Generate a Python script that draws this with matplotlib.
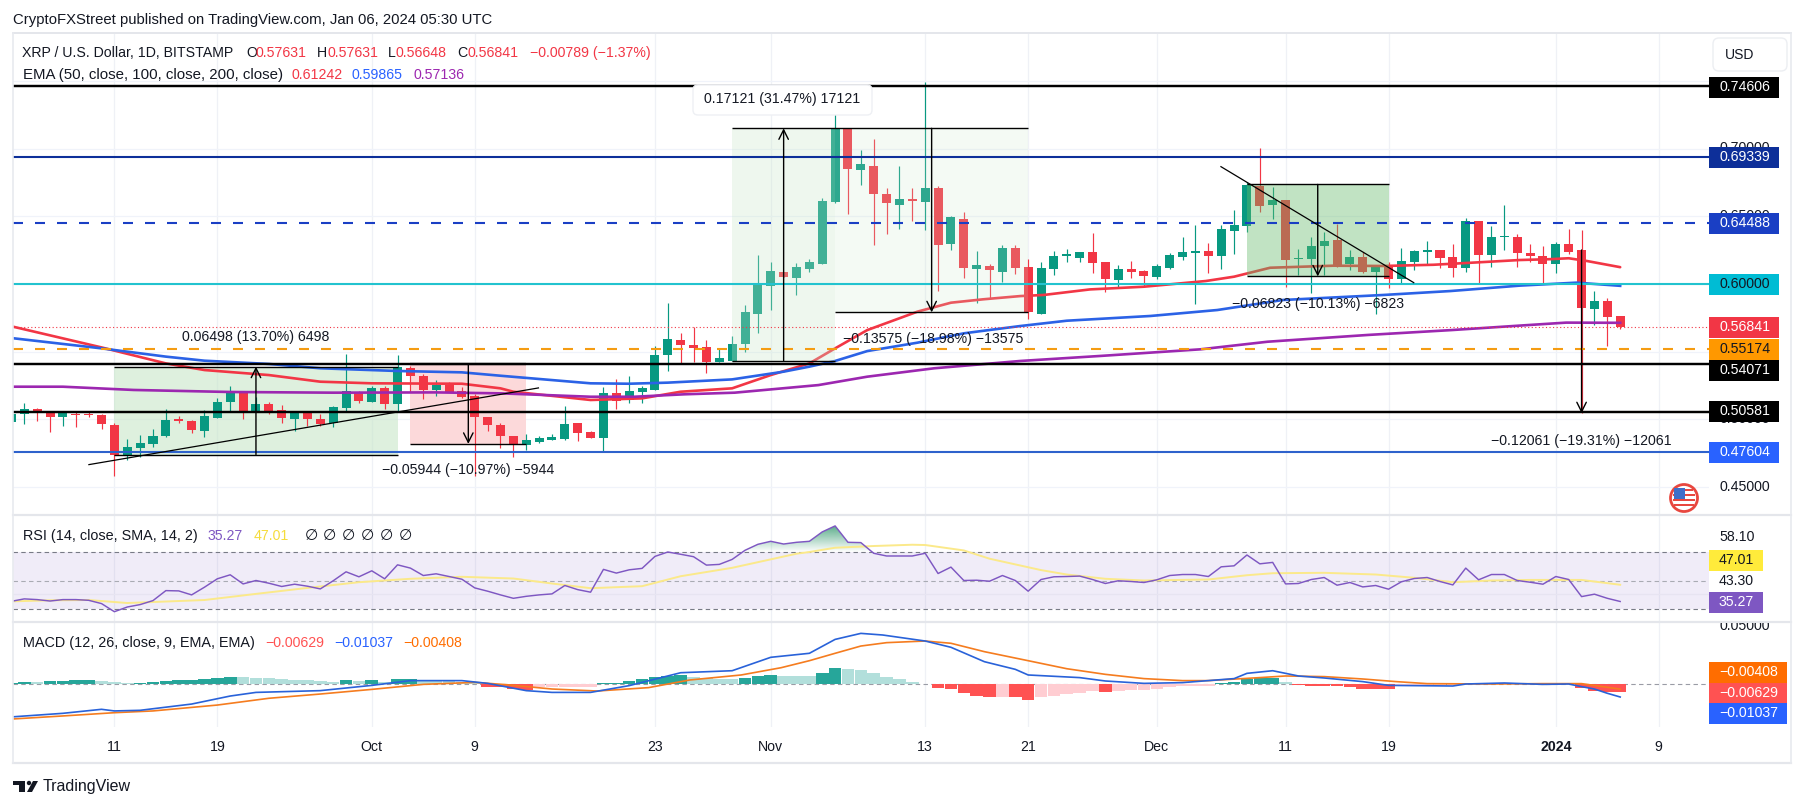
import numpy as np
import matplotlib
matplotlib.use("Agg")
import matplotlib.pyplot as plt
from matplotlib.patches import Rectangle, FancyBboxPatch, Circle, Polygon
from matplotlib.transforms import Bbox

W, H = 1804, 808
FONT = "Liberation Sans"
plt.rcParams["font.family"] = [FONT, "DejaVu Sans"]

# ---- daily candles, day 0 = 4 Sep 2023 ----
first_day = -1
opens = [.4980,.5041,.5078,.5051,.5016,.5041,.5041,.5036,.4962,.4741,.4792,.4822,.4879,.5002,.4992,.4913,.5014,.5132,.5211,.5058,
         .5117,.5071,.5006,.5056,.5006,.4972,.5088,.5203,.5132,.5235,.5112,.5378,.5321,.5221,.5257,.5211,.5174,.5019,.4962,.4879,
         .4815,.4832,.4852,.4859,.4975,.4908,.4866,.5196,.5144,.5203,.5218,.5476,.5587,.5550,.5532,.5424,.5434,.5557,.5778,.5985,
         .6088,.6044,.6111,.6147,.6605,.7149,.6841,.6871,.6664,.6583,.6627,.6605,.6708,.6295,.6480,.6111,.6133,.6088,.6266,.6125,
         .5778,.6111,.6207,.6192,.6236,.6162,.6029,.6111,.6096,.6052,.6118,.6199,.6229,.6243,.6207,.6391,.6428,.6723,.6583,.6620,
         .6182,.6184,.6280,.6325,.6147,.6199,.6088,.6125,.6037,.6162,.6236,.6251,.6199,.6118,.6465,.6214,.6347,.6347,.6229,.6207,
         .6148,.6296,.6251,.5816,.5875,.57631]
highs = [.5053,.5125,.5083,.5058,.5058,.5058,.5053,.5041,.4972,.4856,.4888,.4930,.5078,.5029,.4997,.5071,.5159,.5250,.5211,.5164,
         .5132,.5110,.5058,.5066,.5041,.5100,.5484,.5208,.5250,.5250,.5476,.5398,.5336,.5292,.5275,.5238,.5189,.5021,.4977,.4879,
         .4893,.4881,.4893,.5102,.4977,.4918,.5238,.5299,.5321,.5247,.5542,.5857,.5636,.5685,.5587,.5518,.5616,.5842,.6211,.6162,
         .6088,.6152,.6182,.6635,.7382,.7149,.6989,.7068,.6708,.6871,.6708,.7491,.6723,.6502,.6531,.6243,.6148,.6288,.6288,.6184,
         .6162,.6243,.6258,.6236,.6376,.6162,.6140,.6170,.6103,.6148,.6229,.6347,.6435,.6302,.6435,.6546,.6753,.7004,.6716,.6620,
         .6258,.6347,.6384,.6443,.6251,.6236,.6133,.6162,.6266,.6251,.6317,.6251,.6295,.6485,.6465,.6428,.6583,.6369,.6296,.6281,
         .6310,.6406,.6399,.5949,.5897,.57631]
lows = [.4980,.4965,.4987,.4906,.4955,.4943,.5016,.4928,.4586,.4701,.4721,.4800,.4874,.4972,.4898,.4869,.5011,.5066,.5002,.5053,
        .5041,.4977,.4918,.4955,.4955,.4943,.5066,.5120,.5130,.5075,.5066,.5201,.5154,.5171,.5201,.5159,.4586,.4913,.4788,.4726,
        .4778,.4827,.4852,.4847,.4844,.4861,.4770,.5078,.5119,.5124,.5218,.5360,.5409,.5427,.5345,.5424,.5434,.5500,.5641,.5808,
        .6052,.5919,.6088,.6147,.6600,.6516,.6730,.6288,.6369,.6406,.6465,.6398,.5948,.6251,.6044,.5862,.5897,.6015,.6074,.5744,
        .5778,.6066,.6162,.6162,.6081,.5941,.5978,.6044,.5985,.6037,.6111,.6177,.5852,.6081,.6111,.6221,.6384,.6531,.6480,.5978,
        .6066,.5933,.6066,.6128,.6103,.6081,.5778,.5970,.6007,.6103,.6147,.6118,.6052,.6088,.6007,.6125,.6251,.6125,.6163,.5999,
        .6082,.6222,.5046,.5698,.5543,.56648]
closes = [.5041,.5080,.5046,.5021,.5051,.5036,.5036,.4965,.4741,.4797,.4829,.4879,.4999,.4987,.4920,.5029,.5132,.5201,.5063,.5117,
          .5063,.5014,.5058,.5006,.4967,.5093,.5211,.5139,.5235,.5117,.5388,.5319,.5221,.5257,.5206,.5169,.5021,.4962,.4881,.4820,
          .4852,.4866,.4874,.4967,.4903,.4866,.5196,.5134,.5210,.5232,.5476,.5594,.5550,.5528,.5424,.5454,.5557,.5793,.6000,.6096,
          .6052,.6125,.6162,.6612,.7149,.6849,.6885,.6664,.6598,.6627,.6612,.6708,.6288,.6494,.6118,.6140,.6103,.6266,.6118,.5791,
          .6118,.6207,.6221,.6236,.6155,.6037,.6111,.6088,.6059,.6133,.6214,.6236,.6243,.6207,.6406,.6435,.6730,.6576,.6620,.6177,
          .6192,.6280,.6317,.6140,.6199,.6088,.6133,.6037,.6170,.6243,.6251,.6192,.6118,.6465,.6214,.6347,.6354,.6229,.6207,.6148,
          .6296,.6237,.5823,.5875,.5757,.56841]
days = np.arange(first_day, first_day + len(opens))

# ---- EMAs ----
ema50_days = [-2,6,11,14,19,23,27,34,37,38,44,48,51,55,58,61,63,65.5,69.4,72,74.5,77.4,79.2,82.8,87,91.8,94,96.8,101.7,105.6,109.5,113,116.2,118.5,120,121.4,124]
ema50_vals = [.5710,.5532,.5414,.5365,.5328,.5279,.5267,.5264,.5230,.5205,.5144,.5156,.5205,.5230,.5328,.5414,.5525,.5660,.5796,.5862,.5887,.5911,.5919,.5960,.5980,.6022,.6054,.6120,.6135,.6133,.6142,.6160,.6177,.6183,.6190,.6170,.61242]
ema100_days = [-2,6,11,14,19,23,29,34,37,44,47,50,55,59,61,63,65.5,69.4,73,77.4,81,87.5,92.7,97.8,105.6,110.8,116.2,120.6,124]
ema100_vals = [.5612,.5525,.5464,.5434,.5410,.5378,.5358,.5348,.5323,.5267,.5264,.5272,.5296,.5353,.5390,.5432,.5505,.5567,.5636,.5690,.5729,.5764,.5808,.5882,.5919,.5948,.5988,.6010,.59865]
ema200_days = [-2,3,8.5,16,24,32,37,44,47.4,51.3,55.2,61.7,65.5,70.7,77.4,83.6,91.4,96.6,104.4,110.9,116.2,119.8,124]
ema200_vals = [.5242,.5242,.5218,.5203,.5198,.5200,.5193,.5168,.5168,.5186,.5198,.5254,.5316,.5378,.5432,.5469,.5518,.5574,.5624,.5660,.5693,.5715,.57136]

# ---- horizontal levels ----
level_values = [.74606,.69339,.64488,.60000,.55174,.54071,.50581,.47604]
level_colors = ["#000000","#0d2f99","#1a3fc4","#22c3cf","#f59c12","#000000","#000000","#2e62cc"]
level_dashed = [False,False,True,False,True,False,False,False]
last_price = .56841

# ---- RSI ----
rsi = [35.4,37.1,36.6,35.6,36.6,36.6,36.1,33.8,28.1,31.4,33.1,35.9,42.9,42.7,39.9,45.3,51.2,54.0,47.6,50.0,48.1,45.8,47.4,46.0,44.1,49.8,
       56.1,52.6,56.8,51.2,61.0,58.7,53.5,54.7,52.8,50.9,44.8,42.5,39.9,37.5,38.9,39.9,40.6,46.5,43.6,41.8,57.8,55.2,57.5,58.5,66.9,70.0,
       68.4,66.7,60.8,61.3,64.8,71.2,75.4,77.5,75.6,76.8,77.5,84.1,88.3,76.8,76.6,69.1,67.2,67.2,67.2,69.1,54.9,59.4,50.0,50.2,49.5,53.5,
       50.0,42.5,50.7,52.6,52.8,53.1,50.7,47.9,49.8,49.3,48.6,50.5,53.5,54.2,54.2,52.8,59.6,60.3,67.9,61.7,62.7,47.6,47.9,50.7,52.1,46.7,
       48.6,45.5,46.5,43.9,49.1,51.4,52.1,49.3,46.9,58.7,50.5,54.2,54.2,50.0,48.8,47.4,52.8,50.7,38.7,40.4,37.5,35.27]
rsi_sma_days = [-2,2,5,8,10,14,18,22,26,30,34,38,41,44,48,51,55,60,61,63,66,69,70,73,75,79,81,84,87,92,95,97,101,105,108,111,114,117,121,124]
rsi_sma_vals = [35.1,36.1,36.3,34.2,34.9,36.3,40.6,44.8,48.8,51.2,52.6,51.4,47.9,44.6,46.0,53.0,58.9,68.8,70,73,74.2,75.1,74.9,71.1,65.3,57.3,54.2,51.2,50,50.7,53.7,55.1,55.4,54.2,51.9,48.8,50,50.4,50.4,47.01]

# ---- MACD ----
macd_hist = [.0011,.0013,.0013,.0021,.0024,.0032,.0035,.0021,.0016,.0008,.0011,.0013,.0021,.0029,.0032,.0040,.0048,.0056,.0053,.0051,.0048,.0040,.0032,.0029,.0021,.0019,
             .0029,.0027,.0032,.0016,.0040,.0043,.0032,.0027,.0024,.0016,.0005,-.0021,-.0027,-.0037,-.0045,-.0027,-.0027,-.0027,-.0027,-.0024,.0005,.0011,.0021,.0037,.0053,.0067,
             .0069,.0059,.0045,.0040,.0037,.0048,.0061,.0069,.0067,.0067,.0067,.0088,.0125,.0117,.0112,.0088,.0056,.0037,.0013,.0003,-.0035,-.0040,-.0074,-.0093,-.0106,-.0101,
             -.0106,-.0125,-.0106,-.0096,-.0080,-.0069,-.0059,-.0064,-.0053,-.0051,-.0051,-.0043,-.0027,-.0016,-.0013,-.0013,.0011,.0016,.0043,.0045,.0048,.0016,-.0011,-.0013,-.0016,
             -.0019,-.0027,-.0037,-.0040,-.0043,-.0016,-.0011,-.0008,-.0005,-.0005,.0005,.0008,.0008,.0008,.0003,-.0003,-.0011,-.0003,-.0003,-.0032,-.0053,-.0061,-.00629]
macd_days = [-2,3,6,7,9,13,16,18,23,27,30,34,36,39,41,44,47,51,55,58,61,63,65,66.7,70,72,74.6,77,78,82,84,87,90,94,95,97,99,101,104,106,108,111,112,115,118,120,121,122,123,124]
macd_vals = [-.0270,-.0234,-.0202,-.0215,-.0210,-.0160,-.0096,-.0067,-.0053,-.0011,.0027,.0027,.0005,-.0053,-.0067,-.0067,-.0013,.0090,.0106,.0213,.0245,.0356,.0404,.0391,.0343,.0293,.0178,.0117,.0072,.0051,.0024,.0005,.0011,.0043,.0085,.0106,.0064,.0048,.0019,-.0011,-.0013,-.0016,0,.0008,-.0003,0,-.0021,-.0040,-.0074,-.01037]
signal_days = [-2,3,7,10,15,19,23,27,31,35,37.4,41,44.5,48.5,51.7,55.7,58.8,61,63,65,67,70,72,74.6,78,81,84,87,90,92,96,98,101,104,106.6,109,114,118,121,124]
signal_vals = [-.0286,-.0255,-.0229,-.0215,-.0168,-.0114,-.0080,-.0043,-.0003,.0013,-.0005,-.0040,-.0056,-.0029,.0032,.0072,.0130,.0186,.0245,.0303,.0330,.0343,.0325,.0258,.0186,.0122,.0077,.0043,.0027,.0027,.0051,.0064,.0059,.0040,.0019,.0003,0,.0003,.0003,-.00408]

# ---- axis labels ----
tick_days = [7,15,27,35,49,58,70,78,88,98,106,119,127]
tick_labels = ["11","19","Oct","9","23","Nov","13","21","Dec","11","19","2024","9"]
price_ticks = [.75,.70,.65,.60,.55,.50,.45]
hidden_price_labels = [.70,.65,.50,.45]

# ---- geometry in pixels ----
PLOT_L, PLOT_R, BORDER_R = 13, 1709, 1791
MAIN_T, MAIN_B, RSI_B, MACD_B, FRAME_B = 33, 515, 622, 727, 763
X0, DX = 24.3, 12.87
Y60, PPU = 284, 1355
XLIM = ((PLOT_L - X0) / DX, (PLOT_R - X0) / DX)

fig = plt.figure(figsize=(W / 100, H / 100), dpi=100, facecolor="white")

def fx(x): return x / W
def fy(y): return 1 - y / H

def pane(top, bottom, ylim):
    ax = fig.add_axes([fx(PLOT_L), fy(bottom), (PLOT_R - PLOT_L) / W, (bottom - top) / H])
    ax.set_xlim(*XLIM); ax.set_ylim(*ylim)
    ax.axis("off")
    for d in tick_days:
        ax.axvline(d, color="#eff1f6", lw=0.9, zorder=0)
    return ax

main = pane(MAIN_T, MAIN_B, (.6 - (MAIN_B - Y60) / PPU, .6 + (Y60 - MAIN_T) / PPU))
rsi_ax = pane(MAIN_B, RSI_B, (30 - (RSI_B - 609) / 1.425, 30 + (609 - MAIN_B) / 1.425))
macd_ax = pane(RSI_B, MACD_B, ((684 - MACD_B) / 1253, (684 - RSI_B) / 1253))

TXT = "#131722"
def T(x, y, s, color=TXT, size=10.2, ha="left", **kw):
    return fig.text(fx(x), fy(y), s, color=color, fontsize=size, ha=ha, va="center", zorder=20, **kw)

# ---- main pane ----
for p in price_ticks:
    main.axhline(p, color="#f0f3fa", lw=0.9, zorder=0)

main.add_patch(Rectangle((7, .4741), 22, .5390 - .4741, fc="#c8e6c9", alpha=.6, ec="none", zorder=1))
main.add_patch(Rectangle((30, .4820), 9, .5412 - .4820, fc="#fcd9da", ec="none", zorder=1))

xs = np.array(days, float)
o, h_, l_, c = map(np.array, (opens, highs, lows, closes))
up = c >= o
GREEN, RED = "#089981", "#f23645"
cols = np.where(up, GREEN, RED)
main.vlines(xs, l_, h_, colors=cols, lw=0.85, zorder=2)
main.bar(xs, np.maximum(np.abs(c - o), .0006), bottom=np.minimum(o, c), width=.70, color=cols, lw=0, zorder=2)

main.plot(ema50_days, ema50_vals, color="#f23645", lw=1.9, zorder=3, solid_capstyle="round")
main.plot(ema100_days, ema100_vals, color="#2b62e6", lw=1.9, zorder=3)
main.plot(ema200_days, ema200_vals, color="#9c27b0", lw=1.9, zorder=3)

main.add_patch(Rectangle((55, .5434), 8, .7149 - .5434, fc="#c8e6c9", alpha=.3, ec="none", zorder=4))
main.add_patch(Rectangle((63, .5791), 15, .7149 - .5791, fc="#c8e6c9", alpha=.2, ec="none", zorder=4))
main.add_patch(Rectangle((95, .6056), 11, .6735 - .6056, fc="#66bb6a", alpha=.4, ec="none", zorder=4))

for val, col, dashed in zip(level_values, level_colors, level_dashed):
    ls = (0, (4.8, 5.76)) if dashed else "-"
    main.axhline(val, color=col, lw=1.5 if col != "#000000" else 1.75, ls=ls, zorder=5)
main.axhline(last_price, color="#f23645", lw=0.8, ls=(0, (1, 2.2)), zorder=5)

def hl(a, b, v, lw=1.0):
    main.plot([a, b], [v, v], color="black", lw=lw, zorder=6, solid_capstyle="butt")
hl(7, 29, .5390); hl(7, 29, .4741)
hl(30, 39, .5412, 1.6); hl(30, 39, .4820)
hl(55, 78, .7149); hl(63, 78, .5791); hl(55, 63, .5434)
hl(95, 106, .6735); hl(95, 106, .6056)

def arrow(x, a, b):
    main.annotate("", xy=(x, b), xytext=(x, a),
                  arrowprops=dict(arrowstyle="->", color="black", lw=1.0, mutation_scale=17, shrinkA=0, shrinkB=0), zorder=6)
arrow(18, .4741, .5390)
arrow(34.5, .5412, .4820)
arrow(59, .5434, .7149)
arrow(70.5, .7149, .5791)
arrow(100.5, .6735, .6056)
arrow(121, .6251, .5046)

main.plot([5.02, 39.95], [.4667, .5233], color="black", lw=0.9, zorder=6)
main.plot([92.98, 107.96], [.6866, .6010], color="black", lw=0.9, zorder=6)

T(256, 337, "0.06498 (13.70%) 6498", ha="center")
T(468, 470, "\u22120.05944 (\u221210.97%) \u22125944", ha="center")
T(933, 339, "\u22120.13575 (\u221218.98%) \u221213575", ha="center")
T(1318, 304, "\u22120.06823 (\u221210.13%) \u22126823", ha="center")
T(1581, 441, "\u22120.12061 (\u221219.31%) \u221212061", ha="center")

def fig_box(x0, y0, x1, y1, fc, ec="none", rad=0, z=15, lw=1.0):
    if rad:
        p = FancyBboxPatch((x0, H - y1), x1 - x0, y1 - y0, boxstyle=f"round,pad=0,rounding_size={rad}",
                           fc=fc, ec=ec, lw=lw, transform=None, zorder=z)
    else:
        p = Rectangle((x0, H - y1), x1 - x0, y1 - y0, fc=fc, ec=ec, lw=lw, transform=None, zorder=z)
    fig.add_artist(p)
    return p

fig_box(693, 85, 872, 115, "white", ec="#eef0f4", rad=5)
T(782, 99, "0.17121 (31.47%) 17121", ha="center")

# ---- frame ----
for yy, lw in [(MAIN_T, 1.4), (MAIN_B, 1.6), (RSI_B, 1.6), (FRAME_B, 1.6)]:
    fig.add_artist(plt.Line2D([fx(PLOT_L), fx(BORDER_R)], [fy(yy), fy(yy)], color="#e4e6eb", lw=lw, zorder=8))
for xx in (PLOT_L, BORDER_R):
    fig.add_artist(plt.Line2D([fx(xx), fx(xx)], [fy(MAIN_T), fy(FRAME_B)], color="#e8eaef", lw=1.2, zorder=8))

# ---- price axis ----
LBL_X = 1719
for p in hidden_price_labels:
    fig.text(fx(LBL_X), fy(Y60 + (.6 - p) * PPU), f"{p:.5f}", color=TXT, fontsize=10.2, va="center", zorder=12)

box_labels = [("0.74606", 87, "#000000", "white"), ("0.69339", 157, "#0d2f99", "white"), ("0.64488", 223, "#1a3fc4", "white"),
              ("0.60000", 284, "#00bcd4", TXT), ("0.56841", 327, "#f23645", "white"), ("0.55174", 349, "#ff9800", TXT),
              ("0.54071", 370, "#000000", "white"), ("0.50581", 411, "#000000", "white"), ("0.47604", 452, "#2962ff", "white")]
for s, yy, fc, tc in box_labels:
    fig_box(1709, yy - 10.5, 1779, yy + 10.5, fc, z=14)
    T(LBL_X, yy, s, color=tc)

fig_box(1713, 38, 1787, 71, "white", ec="#eceef2", rad=6)
T(1725, 55, "USD", size=10)

# flag icon
cx, cy, r = 1684, H - 498, 13.5
fig.add_artist(Circle((cx, cy), r, fc="white", ec="#e8473f", lw=2.0, transform=None, zorder=14))
for dy in (-8, -3, 2, 7):
    hw = np.sqrt(max(r**2 - dy**2, 0)) - 2
    fig_box(cx - hw, H - cy + dy - 1.3, cx + hw, H - cy + dy + 1.3, "#e8473f", z=15)
fig_box(cx - 10, H - cy - 10, cx + 1, H - cy + 0.5, "#3f6fc9", z=16)

# ---- RSI pane ----
rsi_ax.axhspan(30, 70, color="#7e57c2", alpha=.11, lw=0, zorder=1)
rsi_ax.axhline(40.5, color="#e7e4f1", lw=0.9, zorder=1)
for lv in (70, 30):
    rsi_ax.axhline(lv, color="#787b86", lw=0.8, ls=(0, (4, 3)), zorder=2)
rsi_ax.axhline(50, color="#a9abb3", lw=0.8, ls=(0, (4, 3)), zorder=2)
r_arr = np.array(rsi)
over = rsi_ax.fill_between(days, 70, r_arr, where=r_arr > 70, interpolate=True, color="none", lw=0, zorder=2)
grad = np.zeros((64, 2, 4))
grad[..., :3] = np.array([0x1f, 0x8f, 0x5f]) / 255
grad[..., 3] = np.linspace(.8, 0, 64)[:, None]
im = rsi_ax.imshow(grad, extent=[XLIM[0], XLIM[1], 70, 90], origin="upper", aspect="auto", zorder=2, interpolation="bilinear")
im.set_clip_path(over.get_paths()[0], transform=rsi_ax.transData)
rsi_ax.set_xlim(*XLIM)
rsi_ax.set_ylim(30 - (RSI_B - 609) / 1.425, 30 + (609 - MAIN_B) / 1.425)
rsi_ax.plot(rsi_sma_days, rsi_sma_vals, color="#fbe98a", lw=1.4, zorder=3)
rsi_ax.plot(days, rsi, color="#7e57c2", lw=1.05, zorder=4)

T(23, 536, "RSI (14, close, SMA, 14, 2)", size=10.4)
T(208, 536, "35.27", color="#7e57c2")
T(254, 536, "47.01", color="#f5dc3c")
for xx in (305, 323, 342, 361, 380, 399):
    T(xx, 536, "\u2205", size=11)
T(LBL_X, 537, "58.10")
fig_box(1709, 549.5, 1763, 570.5, "#ffeb3b", z=14); T(LBL_X, 560, "47.01")
T(LBL_X, 581, "43.30")
fig_box(1709, 591.5, 1763, 612.5, "#7e57c2", z=14); T(LBL_X, 602, "35.27", color="white")

# ---- MACD pane ----
macd_ax.axhline(0, color="#9a9ca5", lw=0.8, ls=(0, (4, 3)), zorder=1)
hist_cols = []
prev = macd_hist[0] - 1e-4
for v in macd_hist:
    if v >= 0:
        hist_cols.append("#26a69a" if v > prev else "#b2dfdb")
    else:
        hist_cols.append("#ff5252" if v < prev else "#ffcdd2")
    prev = v
macd_ax.bar(days, macd_hist, width=.98, color=hist_cols, lw=0, zorder=2)
macd_ax.plot(signal_days, signal_vals, color="#f57c1f", lw=1.2, zorder=3)
macd_ax.plot(macd_days, macd_vals, color="#2962d9", lw=1.2, zorder=4)

T(23, 643, "MACD (12, 26, close, 9, EMA, EMA)", size=10.4)
T(265, 643, "\u22120.00629", color="#ff5252")
T(334, 643, "\u22120.01037", color="#2962ff")
T(403, 643, "\u22120.00408", color="#ff6d00")
z = T(LBL_X, 626, "0.05000")
z.set_clip_on(True)
z.set_clip_box(Bbox([[1700, H - 640], [1791, H - RSI_B - 1]]))
for s, yy, fc in [("\u22120.00408", 672, "#ff6d00"), ("\u22120.00629", 693, "#ff5252"), ("\u22120.01037", 713, "#2962ff")]:
    fig_box(1709, yy - 10.5, 1787, yy + 10.5, fc, z=14)
    T(LBL_X, yy, s, color="white")

# ---- time axis ----
for d, s in zip(tick_days, tick_labels):
    T(X0 + DX * d, 747, s, ha="center", fontweight="bold" if s == "2024" else "normal")

# ---- header ----
T(13, 20, "CryptoFXStreet published on TradingView.com, Jan 06, 2024 05:30 UTC", size=10.75)
T(22, 53, "XRP / U.S. Dollar, 1D, BITSTAMP")
hdr_red = "#f23645"
for xx, s, col in [(246, "O", TXT), (256, "0.57631", hdr_red), (317, "H", TXT), (327, "0.57631", hdr_red),
                   (388, "L", TXT), (396, "0.56648", hdr_red), (457, "C", TXT), (468, "0.56841", hdr_red),
                   (530, "\u22120.00789 (\u22121.37%)", hdr_red)]:
    T(xx, 53, s, color=col)
T(23, 75, "EMA (50, close, 100, close, 200, close)", size=10.8)
T(291, 75, "0.61242", color="#f23645")
T(352, 75, "0.59865", color="#2962ff")
T(414, 75, "0.57136", color="#9c27b0")

# ---- TradingView logo ----
fig_box(13, 781, 25, 785, "#131722", z=14)
fig_box(19, 781, 25, 792, "#131722", z=14)
fig.add_artist(Circle((29, H - 783), 2.2, fc="#131722", transform=None, zorder=14))
fig.add_artist(Polygon([(33, H - 781), (38, H - 781), (32, H - 792), (27, H - 792)], fc="#131722", transform=None, zorder=14))
T(43, 787, "TradingView", size=11.5)

fig.savefig("out.png", dpi=100, facecolor="white")
